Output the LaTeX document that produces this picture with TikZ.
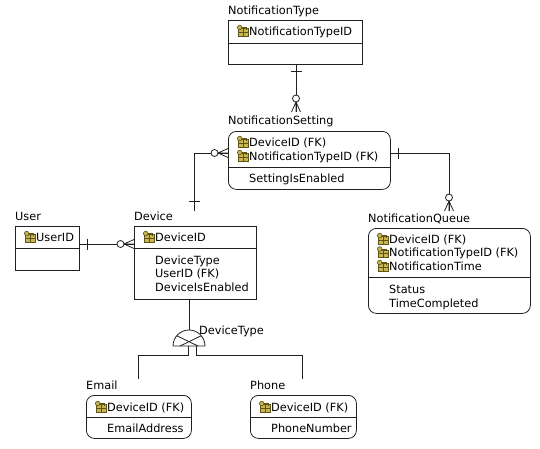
\documentclass[tikz,border=0pt]{standalone}
\usepackage{fontspec}
\setmainfont{DejaVu Sans}
\usetikzlibrary{positioning}

\definecolor{keyfill}{HTML}{C8B450}
\definecolor{keyline}{HTML}{5E5418}
\definecolor{erline}{HTML}{202020}

\newcommand{\pkey}{\tikz[baseline=0pt,x=1pt,y=1pt]{%
  \useasboundingbox (0,-1) rectangle (13,9);
  \fill[keyfill,draw=keyline,line width=.5pt] (2.5,-1) rectangle (12,6.5);
  \draw[keyline,line width=.5pt] (2.5,3) -- (12,3) (7,-1) -- (7,6.5);
  \draw[keyline,line width=.8pt] (5.5,7.5) -- (10,7.5) -- (10,5.5);
  \fill[keyfill,draw=keyline,line width=.6pt] (3.5,7.5) circle (2.3);}}

\tikzset{
  entity/.style={draw=erline, line width=.8pt, anchor=north west, inner sep=0pt},
  rentity/.style={entity, rounded corners=8pt},
  title/.style={inner sep=0pt, text depth=0pt, font=\fontsize{11.3}{13}\selectfont},
  row/.style={anchor=base west, inner sep=0pt, font=\fontsize{11.3}{13}\selectfont},
  link/.style={draw=erline, line width=.8pt},
  onebar/.pic={\draw[link] (0,-5.5) -- (0,5.5);},
  zeromany/.pic={\draw[link] (-10,0) -- (0,4.5) (-10,0) -- (0,-4.5) (-10,0) -- (0,0);
    \draw[link, fill=white] (-13.5,0) circle (3.5);}
}

\begin{document}
\begin{tikzpicture}[x=1pt,y=1pt]
\useasboundingbox (0,0) rectangle (540,-448);

% NotificationType
\node[entity, minimum width=134pt, minimum height=44pt] (ntype) at (228,-20) {};
\node[title, above right=5pt and 0pt of ntype.north west] (ntypet) {NotificationType};
\node[row] (ntype1) at (236,-35) {\pkey NotificationTypeID};
\draw[link] (ntype.west |- 0,-43) -- (ntype.east |- 0,-43);

% NotificationSetting
\node[rentity, minimum width=162pt, minimum height=58pt] (nset) at (228,-131) {};
\node[title, above right=6pt and 0pt of nset.north west] (nsett) {NotificationSetting};
\node[row] (nset1) at (236,-146) {\pkey DeviceID (FK)};
\node[row] (nset2) at (236,-160) {\pkey NotificationTypeID (FK)};
\node[row] (nset3) at (249,-182) {SettingIsEnabled};
\draw[link] (nset.west |- 0,-167) -- (nset.east |- 0,-167);

% User
\node[entity, minimum width=64pt, minimum height=44pt] (user) at (15,-226) {};
\node[title, above right=5pt and 0pt of user.north west] (usert) {User};
\node[row] (user1) at (23,-241) {\pkey UserID};
\draw[link] (user.west |- 0,-248) -- (user.east |- 0,-248);

% Device
\node[entity, minimum width=122pt, minimum height=73pt] (device) at (134,-226) {};
\node[title, above right=5pt and 0pt of device.north west] (devicet) {Device};
\node[row] (device1) at (142,-241) {\pkey DeviceID};
\node[row] (device2) at (155,-264) {DeviceType};
\node[row] (device3) at (155,-277.5) {UserID (FK)};
\node[row] (device4) at (155,-291) {DeviceIsEnabled};
\draw[link] (device.west |- 0,-248) -- (device.east |- 0,-248);

% NotificationQueue
\node[rentity, minimum width=162pt, minimum height=85pt] (nqueue) at (368,-228) {};
\node[title, above right=5pt and 0pt of nqueue.north west] (nqueuet) {NotificationQueue};
\node[row] (nqueue1) at (376,-243) {\pkey DeviceID (FK)};
\node[row] (nqueue2) at (376,-256.5) {\pkey NotificationTypeID (FK)};
\node[row] (nqueue3) at (376,-270) {\pkey NotificationTime};
\node[row] (nqueue4) at (389,-293) {Status};
\node[row] (nqueue5) at (389,-307) {TimeCompleted};
\draw[link] (nqueue.west |- 0,-277) -- (nqueue.east |- 0,-277);

% Email
\node[rentity, minimum width=105pt, minimum height=43pt] (email) at (86,-395) {};
\node[title, above right=5pt and 0pt of email.north west] (emailt) {Email};
\node[row] (email1) at (94,-411) {\pkey DeviceID (FK)};
\node[row] (email2) at (107,-432) {EmailAddress};
\draw[link] (email.west |- 0,-417) -- (email.east |- 0,-417);

% Phone
\node[rentity, minimum width=106pt, minimum height=43pt] (phone) at (250,-395) {};
\node[title, above right=5pt and 0pt of phone.north west] (phonet) {Phone};
\node[row] (phone1) at (258,-411) {\pkey DeviceID (FK)};
\node[row] (phone2) at (271,-432) {PhoneNumber};
\draw[link] (phone.west |- 0,-417) -- (phone.east |- 0,-417);

% relationships
\coordinate (nsetin) at (296,-112);
\draw[link] (ntype.south -| nsetin) -- (nsetin);
\pic[rotate=90] at (296,-71) {onebar};
\pic[rotate=-90] at (nsetin) {zeromany};

\coordinate (devin) at (194,-211);
\draw[link] (devin) |- (nset.west |- 0,-153);
\pic[rotate=90] at (194,-201) {onebar};
\pic at (nset.west |- 0,-153) {zeromany};

\coordinate (nqin) at (449,-211);
\draw[link] (nset.east |- 0,-153) -| (nqin);
\pic at (398,-153) {onebar};
\pic[rotate=-90] at (nqin) {zeromany};

\draw[link] (user.east |- 0,-244) -- (device.west |- 0,-244);
\pic at (87,-244) {onebar};
\pic at (device.west |- 0,-244) {zeromany};

% subtype DeviceType
\coordinate (dtype) at (189,-346);
\coordinate (dtypetop) at (189,-330);
\draw[link] (device.south -| dtype) -- (dtypetop);
\draw[link] (dtype) ++(-16,0) arc (180:0:16) -- cycle;
\draw[link] ([shift={(140:16)}]dtype) -- ([xshift=9pt]dtype);
\draw[link] ([shift={(40:16)}]dtype) -- ([xshift=-9pt]dtype);
\node[row] (dtypel) at (199,-334) {DeviceType};

\coordinate (emailin) at (138,-379);
\coordinate (phonein) at (302,-379);
\draw[link] ([xshift=-1pt]dtype) -- ++(0,-9) -| (emailin);
\draw[link] ([xshift=7pt]dtype) -- ++(0,-9) -| (phonein);
\end{tikzpicture}
\end{document}
